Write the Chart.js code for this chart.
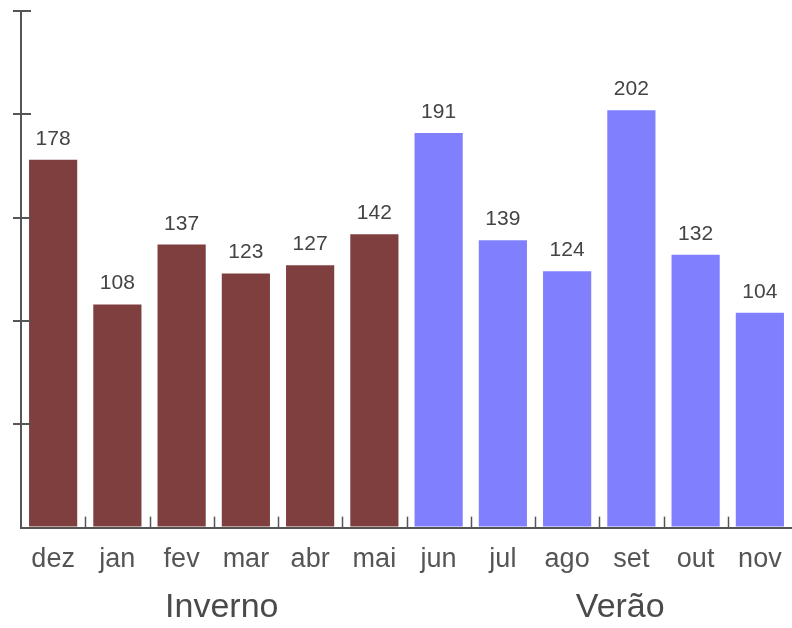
<!DOCTYPE html>
<html lang="pt">
<head>
   <meta charset="UTF-8">
   <title>Inverno / Verão</title>
   <script src="https://cdn.jsdelivr.net/npm/chart.js"></script>
   <style>
      body { margin: 0; padding: 0; background: #fff; }
      .wrap { width: 792px; height: 628px; }
   </style>
</head>
<body>
   <div class="wrap"><canvas id="seasonChart" width="792" height="628"></canvas></div>
   <script>
      // data
      const months = ["dez", "jan", "fev", "mar", "abr", "mai", "jun", "jul", "ago", "set", "out", "nov"];
      const values = [178, 108, 137, 123, 127, 142, 191, 139, 124, 202, 132, 104];
      const groupNames = ["Inverno", "Verão"];
      const groupStart = [0, 6];
      const groupEnd = [5, 11];
      const yTicks = [0, 50, 100, 150, 200, 250];

      const groupColors = ["#7f3f3f", "#8080ff"];
      const barColors = months.map((m, i) => groupColors[i <= groupEnd[0] ? 0 : 1]);
      const axisColor = "#555";
      const fontFamily = "'Liberation Sans', Arial, sans-serif";

      // value labels, inner tick marks and the season labels
      const extras = {
         id: "extras",
         afterDatasetsDraw(chart) {
            const ctx = chart.ctx;
            const x = chart.scales.x, y = chart.scales.y;
            const area = chart.chartArea;
            ctx.save();

            // numbers above bars
            ctx.font = "21px " + fontFamily;
            ctx.fillStyle = "#444";
            ctx.textAlign = "center";
            ctx.textBaseline = "alphabetic";
            chart.getDatasetMeta(0).data.forEach((bar, i) => {
               ctx.fillText(values[i], bar.x, bar.y - 15);
            });

            // y ticks cross the axis
            ctx.strokeStyle = axisColor;
            ctx.lineWidth = 2;
            yTicks.slice(1).forEach(v => {
               const py = Math.round(y.getPixelForValue(v));
               ctx.beginPath();
               ctx.moveTo(area.left, py);
               ctx.lineTo(area.left + 10, py);
               ctx.stroke();
            });

            // small x ticks between categories, pointing up
            ctx.lineWidth = 1.5;
            for (let i = 1; i < months.length; i++) {
               const px = Math.round((x.getPixelForValue(i - 1) + x.getPixelForValue(i)) / 2) + 0.5;
               ctx.beginPath();
               ctx.moveTo(px, area.bottom);
               ctx.lineTo(px, area.bottom - 11);
               ctx.stroke();
            }

            // season labels
            ctx.font = "34px " + fontFamily;
            ctx.fillStyle = "#4a4a4a";
            ctx.textBaseline = "middle";
            const nudge = [8, 21];
            groupNames.forEach((g, k) => {
               const cx = (x.getPixelForValue(groupStart[k]) + x.getPixelForValue(groupEnd[k])) / 2;
               ctx.fillText(g, cx + nudge[k], 608);
            });
            ctx.restore();
         }
      };

      new Chart(document.getElementById("seasonChart"), {
         type: "bar",
         data: {
            labels: months,
            datasets: [{
               data: values,
               backgroundColor: barColors,
               borderWidth: 0,
               barPercentage: 0.75,
               categoryPercentage: 1.0
            }]
         },
         options: {
            responsive: false,
            animation: false,
            layout: { autoPadding: false, padding: { left: 13, right: 0, top: 11, bottom: 36 } },
            plugins: {
               legend: { display: false },
               tooltip: { enabled: false }
            },
            scales: {
               x: {
                  // the last label may overhang the right edge, like in the original
                  afterFit: s => { s.paddingLeft = 0; s.paddingRight = 0; },
                  grid: { display: false, drawTicks: false },
                  border: { color: axisColor, width: 2 },
                  ticks: {
                     color: "#555",
                     padding: 16,
                     maxRotation: 0,
                     autoSkip: false,
                     font: { family: fontFamily, size: 27 }
                  }
               },
               y: {
                  min: 0,
                  max: 250,
                  afterBuildTicks: s => { s.ticks = yTicks.map(v => ({ value: v })); },
                  grid: {
                     drawOnChartArea: false,
                     drawTicks: true,
                     tickLength: 8,
                     lineWidth: 2,
                     color: c => (c.tick && c.tick.value === 0 ? "rgba(0,0,0,0)" : axisColor)
                  },
                  border: { color: axisColor, width: 2 },
                  ticks: { display: false }
               }
            }
         },
         plugins: [extras]
      });
   </script>
</body>
</html>
